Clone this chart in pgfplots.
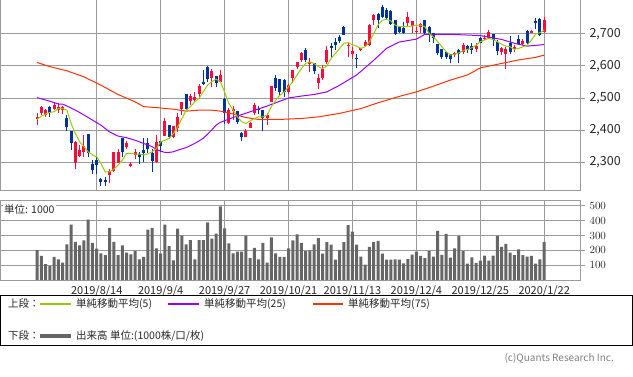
\documentclass[border=0pt]{standalone}
\usepackage{pgfplots}
\pgfplotsset{compat=1.18}
\usepackage{pgfplotstable}
\usepackage{fontspec}
\setmainfont{Noto Sans CJK JP}
\definecolor{upred}{RGB}{255,10,60}
\definecolor{dnblue}{RGB}{0,51,153}
\definecolor{maA}{RGB}{153,204,0}
\definecolor{maB}{RGB}{153,0,255}
\definecolor{maC}{RGB}{255,51,0}
\definecolor{volgray}{RGB}{102,102,102}
\definecolor{gridgray}{RGB}{155,155,155}
\definecolor{txt}{RGB}{40,40,40}
\pgfplotsset{
  candlewick/.style 2 args={mark=none, draw opacity=0, forget plot,
    restrict expr to domain={\thisrow{u}}{#2},
    error bars/y dir=both, error bars/y explicit, error bars/error mark=none,
    error bars/error bar style={draw=#1, draw opacity=1, line width=1pt}},
  candlebody/.style 2 args={mark=none, draw opacity=0, forget plot,
    restrict expr to domain={\thisrow{u}}{#2},
    error bars/y dir=both, error bars/y explicit, error bars/error mark=none,
    error bars/error bar style={draw=#1, draw opacity=1, line width=3pt}},
}
\pgfplotstableread{
i o h l c v u
0 2433 2452 2415 2441 202 1
1 2454 2475 2447 2471 162 1
2 2447 2465 2440 2462 107 1
3 2471 2475 2441 2454 96 0
4 2467 2483 2462 2477 156 1
5 2463 2483 2452 2473 140 1
6 2464 2476 2450 2473 118 1
7 2436 2447 2398 2408 240 0
8 2398 2398 2337 2358 373 0
9 2298 2365 2277 2363 258 1
10 2318 2353 2316 2337 233 1
11 2332 2384 2316 2350 267 1
12 2386 2386 2316 2327 407 0
13 2293 2306 2261 2275 251 0
14 2306 2316 2264 2290 211 0
15 2247 2251 2226 2238 180 0
16 2244 2254 2226 2238 167 0
17 2259 2277 2233 2271 351 1
18 2273 2330 2270 2330 258 1
19 2296 2342 2296 2330 167 1
20 2374 2374 2316 2332 233 0
21 2348 2366 2342 2358 184 1
22 2288 2299 2283 2295 173 1
23 2321 2342 2308 2332 196 1
24 2325 2332 2295 2316 140 0
25 2337 2374 2301 2327 156 0
26 2358 2374 2327 2342 340 0
27 2327 2340 2269 2304 351 0
28 2301 2384 2296 2363 213 1
29 2365 2365 2332 2350 180 0
30 2381 2439 2381 2428 373 1
31 2415 2415 2371 2379 229 0
32 2377 2412 2374 2412 133 1
33 2405 2452 2394 2441 347 1
34 2467 2488 2447 2488 300 1
35 2514 2514 2462 2467 240 0
36 2491 2512 2478 2507 269 1
37 2493 2519 2488 2503 140 1
38 2514 2545 2504 2537 269 1
39 2551 2587 2540 2543 269 0
40 2598 2601 2551 2559 389 0
41 2561 2592 2535 2585 280 1
42 2569 2569 2533 2546 313 0
43 2551 2587 2548 2572 496 1
44 2496 2499 2418 2452 349 0
45 2421 2470 2418 2462 247 1
46 2458 2475 2431 2467 180 1
47 2460 2460 2418 2426 191 0
48 2391 2394 2366 2379 191 0
49 2379 2402 2377 2398 300 1
50 2407 2426 2405 2423 147 1
51 2454 2483 2447 2478 216 1
52 2467 2475 2450 2462 140 0
53 2462 2462 2398 2436 251 0
54 2439 2454 2415 2447 118 1
55 2488 2537 2488 2537 287 1
56 2564 2572 2523 2530 180 0
57 2558 2558 2506 2520 156 0
58 2556 2558 2504 2520 156 0
59 2520 2545 2514 2540 213 1
60 2561 2589 2548 2587 267 1
61 2598 2613 2592 2613 307 1
62 2619 2645 2613 2641 251 1
63 2650 2655 2613 2619 196 0
64 2606 2624 2582 2611 200 1
65 2610 2610 2575 2584 240 0
66 2546 2575 2527 2564 283 1
67 2561 2603 2556 2592 178 1
68 2613 2662 2606 2650 255 1
69 2662 2671 2627 2655 238 0
70 2676 2686 2650 2665 138 0
71 2691 2697 2671 2679 204 0
72 2723 2725 2697 2697 255 0
73 2662 2671 2629 2667 371 1
74 2637 2660 2621 2648 326 1
75 2626 2636 2595 2624 238 0
76 2650 2657 2648 2655 158 1
77 2663 2681 2658 2676 104 1
78 2665 2731 2662 2728 224 1
79 2744 2764 2728 2759 256 1
80 2762 2767 2720 2744 264 0
81 2785 2790 2750 2752 178 0
82 2775 2780 2745 2749 138 0
83 2772 2775 2728 2730 138 0
84 2743 2745 2698 2700 139 0
85 2723 2726 2703 2707 138 0
86 2720 2738 2700 2702 112 0
87 2735 2770 2723 2752 141 1
88 2725 2742 2702 2740 171 1
89 2707 2723 2699 2710 191 1
90 2721 2735 2702 2731 162 1
91 2743 2745 2697 2702 147 0
92 2723 2725 2676 2697 196 0
93 2702 2702 2671 2686 158 0
94 2670 2670 2634 2642 331 0
95 2652 2652 2622 2627 169 0
96 2645 2645 2621 2629 311 0
97 2639 2639 2608 2621 151 0
98 2634 2645 2627 2641 213 1
99 2650 2652 2610 2637 298 0
100 2645 2671 2639 2665 194 1
101 2662 2665 2642 2650 110 0
102 2662 2671 2637 2650 153 0
103 2652 2671 2645 2662 115 1
104 2686 2691 2671 2673 131 0
105 2683 2697 2681 2689 164 1
106 2689 2714 2686 2707 131 1
107 2700 2700 2662 2681 164 0
108 2676 2681 2634 2648 298 0
109 2645 2660 2634 2655 224 1
110 2637 2660 2592 2653 243 1
111 2673 2694 2637 2645 184 0
112 2652 2665 2645 2660 167 1
113 2683 2697 2665 2668 207 0
114 2668 2683 2665 2679 167 1
115 2710 2714 2670 2673 158 0
116 2704 2712 2702 2710 162 1
117 2741 2749 2715 2733 111 0
118 2746 2749 2694 2697 140 0
119 2707 2754 2702 2743 258 1
}\candles
\begin{document}
\begin{tikzpicture}[x=1pt,y=1pt]
\useasboundingbox (0,0) rectangle (633,-377);
\fill[white] (0,0) rectangle (633,-377);
% ---------- price panel
\begin{axis}[
  at={(0pt,0pt)}, anchor=north west, scale only axis,
  width=580pt, height=190pt,
  xmin=-8.7, xmax=127.4, ymin=2212.5, ymax=2806.25,
  axis line style={draw=gridgray, line width=1pt},
  xtick={14,29,44,59,74,89,104,119}, xticklabels={},
  xtick style={draw=none},
  ytick={2300,2400,2500,2600,2700},
  yticklabels={{2,300},{2,400},{2,500},{2,600},{2,700}},
  ytick pos=right, yticklabel pos=right,
  tick align=outside, major tick length=5pt,
  ytick style={draw=gridgray, line width=1pt},
  yticklabel style={font=\fontsize{12.5}{14}\selectfont, text=txt, xshift=1pt},
  grid=major, grid style={draw=gridgray, line width=1pt},
]
\addplot[candlewick={upred}{0.5:1.5}] table[x=i, y expr=(\thisrow{h}+\thisrow{l})/2, y error expr=(\thisrow{h}-\thisrow{l})/2] {\candles};
\addplot[candlewick={dnblue}{-0.5:0.5}] table[x=i, y expr=(\thisrow{h}+\thisrow{l})/2, y error expr=(\thisrow{h}-\thisrow{l})/2] {\candles};
\addplot[candlebody={upred}{0.5:1.5}] table[x=i, y expr=(\thisrow{o}+\thisrow{c})/2, y error expr={max(abs(\thisrow{c}-\thisrow{o})/2,1.3)}] {\candles};
\addplot[candlebody={dnblue}{-0.5:0.5}] table[x=i, y expr=(\thisrow{o}+\thisrow{c})/2, y error expr={max(abs(\thisrow{c}-\thisrow{o})/2,1.3)}] {\candles};
% 75-day
\addplot[maC, line width=1pt, mark=none] coordinates {(0,2611) (3,2598) (7,2585) (11,2566) (15,2540) (19,2511) (23,2488) (25,2473) (28,2470) (32,2465) (35,2459) (38,2462) (41,2462) (43,2459) (46,2450) (49,2439) (52,2433) (57,2433) (62,2436) (66,2441) (71,2452) (76,2467) (80,2485) (85,2505) (89,2519) (93,2537) (97,2556) (101,2572) (104,2594) (109,2608) (113,2619) (117,2627) (119,2634)};
% 25-day
\addplot[maB, line width=1pt, mark=none] coordinates {(0,2501) (3,2490) (5,2481) (6,2481) (7,2475) (9,2462) (11,2447) (13,2431) (15,2415) (17,2394) (19,2381) (21,2376) (23,2368) (25,2358) (27,2348) (28,2339) (29,2334) (30,2330) (31,2330) (32,2332) (33,2337) (35,2345) (37,2358) (39,2374) (41,2400) (42,2415) (43,2424) (46,2439) (50,2457) (54,2475) (59,2500) (62,2506) (65,2511) (68,2519) (71,2540) (75,2572) (79,2618) (82,2655) (85,2675) (89,2684) (91,2699) (97,2699) (104,2695) (109,2683) (112,2671) (115,2662) (119,2667)};
% 5-day
\addplot[maA, line width=1pt, mark=none] coordinates {(0,2434) (1,2443) (2,2450) (3,2455) (4,2457) (5,2467) (6,2467) (7,2462) (8,2420) (9,2389) (10,2363) (11,2348) (12,2332) (13,2322) (14,2316) (15,2295) (16,2269) (17,2269) (18,2278) (19,2290) (20,2306) (21,2327) (22,2327) (23,2325) (24,2325) (25,2322) (26,2325) (27,2332) (28,2342) (29,2363) (30,2368) (31,2374) (32,2389) (33,2410) (34,2436) (35,2462) (36,2473) (37,2488) (38,2499) (39,2519) (40,2540) (41,2551) (42,2559) (43,2551) (44,2519) (45,2483) (46,2462) (47,2441) (48,2426) (49,2420) (50,2429) (51,2436) (52,2441) (53,2441) (54,2447) (55,2473) (56,2493) (57,2509) (58,2519) (59,2535) (60,2551) (61,2572) (62,2592) (63,2608) (64,2613) (65,2608) (66,2598) (67,2592) (68,2600) (69,2624) (70,2639) (71,2655) (72,2671) (73,2673) (74,2667) (75,2662) (76,2655) (77,2660) (78,2676) (79,2702) (80,2728) (81,2743) (82,2746) (83,2741) (84,2728) (85,2723) (86,2723) (87,2723) (88,2725) (89,2728) (90,2728) (91,2723) (92,2702) (93,2691) (94,2676) (95,2660) (96,2645) (97,2634) (98,2637) (99,2641) (100,2648) (101,2652) (102,2657) (103,2665) (104,2676) (105,2681) (106,2686) (107,2683) (108,2676) (109,2668) (110,2662) (111,2660) (112,2652) (113,2655) (114,2660) (115,2665) (116,2681) (117,2700) (118,2704) (119,2712)};
\end{axis}
% ---------- volume panel
\begin{axis}[
  at={(0pt,-201pt)}, anchor=north west, scale only axis,
  width=580pt, height=79pt,
  xmin=-8.7, xmax=127.4, ymin=0, ymax=533,
  axis line style={draw=gridgray, line width=1pt},
  xtick={14,29,44,59,74,89,104,119},
  xticklabels={2019/8/14,2019/9/4,2019/9/27,2019/10/21,2019/11/13,2019/12/4,2019/12/25,2020/1/22},
  xtick style={draw=none},
  xticklabel style={font=\fontsize{11}{13}\selectfont, text=txt, yshift=3pt},
  ytick={100,200,300,400,500},
  ytick pos=right, yticklabel pos=right,
  tick align=outside, major tick length=5pt,
  ytick style={draw=gridgray, line width=1pt},
  yticklabel style={font=\fontsize{11}{13}\selectfont, text=txt, xshift=1pt},
  grid=major, grid style={draw=gridgray, line width=1pt},
]
\addplot[ybar, bar width=3pt, fill=volgray, draw=none] table[x=i, y=v] {\candles};
\end{axis}
\node[anchor=north west, fill=white, inner sep=1pt, font=\fontsize{10.5}{12}\selectfont, text=txt] at (3,-203) {単位: 1000};
% ---------- legend box
\draw[black, line width=1pt] (0.5,-296) rectangle (632.5,-346);
\draw[draw=maA, line width=1.3pt] (40,-304) -- (71,-304);
\draw[draw=maB, line width=1.3pt] (168,-304) -- (199,-304);
\draw[draw=maC, line width=1.3pt] (313,-304) -- (343,-304);
\draw[draw=volgray, line width=4pt] (40,-336) -- (71,-336);
\begin{scope}[every node/.style={font=\fontsize{10.5}{12}\selectfont, text=txt, anchor=west, inner sep=0}]
\node at (8,-304) {上段：};
\node at (76,-304) {単純移動平均(5)};
\node at (204,-304) {単純移動平均(25)};
\node at (348,-304) {単純移動平均(75)};
\node at (8,-336) {下段：};
\node at (76,-336) {出来高 単位:(1000株/口/枚)};
\end{scope}
\node[anchor=east, inner sep=0, font=\fontsize{10}{12}\selectfont, text=gray] at (614,-358) {(c)Quants Research Inc.};
\end{tikzpicture}
\end{document}
